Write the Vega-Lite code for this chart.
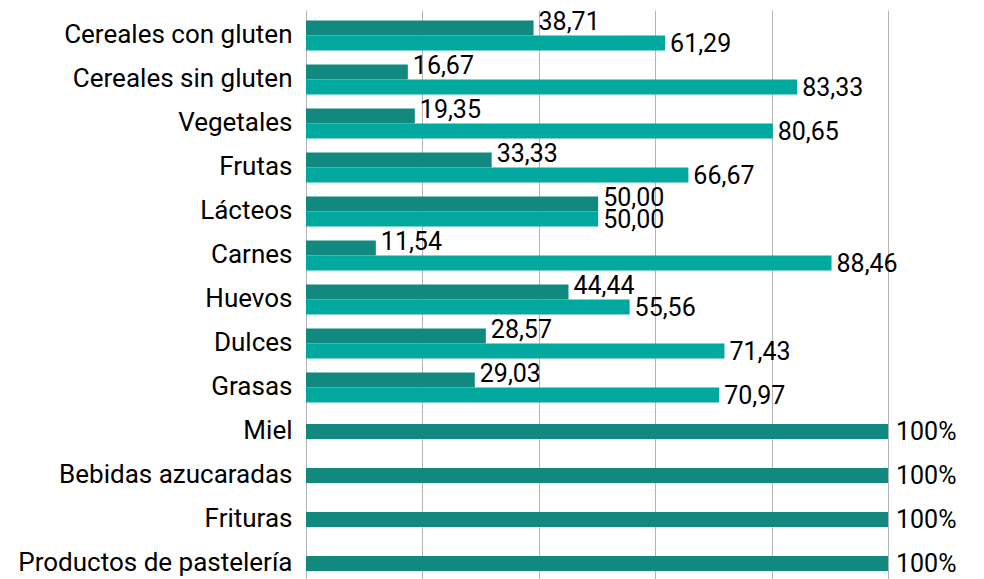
{
  "$schema": "https://vega.github.io/schema/vega-lite/v6.json",
  "autosize": {"type": "none"},
  "padding": {"left": 306, "top": 10, "right": 96, "bottom": 0},
  "width": 582,
  "height": 569,
  "background": "white",
  "config": {
    "view": {"stroke": null},
    "font": "Roboto",
    "text": {"font": "Roboto"}
  },
  "data": {
    "values": [
      {"cat": "Cereales con gluten", "serie": "a", "v": 39.1, "label": "38,71"},
      {"cat": "Cereales con gluten", "serie": "b", "v": 61.7, "label": "61,29"},
      {"cat": "Cereales sin gluten", "serie": "a", "v": 17.5, "label": "16,67"},
      {"cat": "Cereales sin gluten", "serie": "b", "v": 84.4, "label": "83,33"},
      {"cat": "Vegetales", "serie": "a", "v": 18.7, "label": "19,35"},
      {"cat": "Vegetales", "serie": "b", "v": 80.2, "label": "80,65"},
      {"cat": "Frutas", "serie": "a", "v": 31.9, "label": "33,33"},
      {"cat": "Frutas", "serie": "b", "v": 65.7, "label": "66,67"},
      {"cat": "Lácteos", "serie": "a", "v": 50.2, "label": "50,00"},
      {"cat": "Lácteos", "serie": "b", "v": 50.2, "label": "50,00"},
      {"cat": "Carnes", "serie": "a", "v": 12.0, "label": "11,54"},
      {"cat": "Carnes", "serie": "b", "v": 90.3, "label": "88,46"},
      {"cat": "Huevos", "serie": "a", "v": 45.1, "label": "44,44"},
      {"cat": "Huevos", "serie": "b", "v": 55.6, "label": "55,56"},
      {"cat": "Dulces", "serie": "a", "v": 30.9, "label": "28,57"},
      {"cat": "Dulces", "serie": "b", "v": 71.9, "label": "71,43"},
      {"cat": "Grasas", "serie": "a", "v": 29.0, "label": "29,03"},
      {"cat": "Grasas", "serie": "b", "v": 71.0, "label": "70,97"},
      {"cat": "Miel", "serie": "s", "v": 100, "label": "100%"},
      {"cat": "Bebidas azucaradas", "serie": "s", "v": 100, "label": "100%"},
      {"cat": "Frituras", "serie": "s", "v": 100, "label": "100%"},
      {"cat": "Productos de pastelería", "serie": "s", "v": 100, "label": "100%"}
    ]
  },
  "encoding": {
    "y": {
      "field": "cat",
      "type": "nominal",
      "sort": ["Cereales con gluten", "Cereales sin gluten", "Vegetales", "Frutas", "Lácteos", "Carnes", "Huevos", "Dulces", "Grasas", "Miel", "Bebidas azucaradas", "Frituras", "Productos de pastelería"],
      "scale": {"paddingInner": 0.32, "paddingOuter": 0.125, "align": 0.95},
      "axis": {
        "title": null,
        "ticks": false,
        "domain": false,
        "labelPadding": 14,
        "labelFontSize": 26,
        "labelFont": "Roboto",
        "labelColor": "#000000",
        "labelLimit": 400
      }
    },
    "x": {
      "field": "v",
      "type": "quantitative",
      "scale": {"domain": [0, 100], "nice": false},
      "axis": {
        "title": null,
        "labels": false,
        "ticks": false,
        "domain": false,
        "grid": true,
        "values": [0, 20, 40, 60, 80, 100],
        "gridColor": "#b4b4b4",
        "gridWidth": 1
      }
    }
  },
  "layer": [
    {
      "transform": [{"filter": "datum.serie != 's'"}],
      "mark": {"type": "bar"},
      "encoding": {
        "yOffset": {"field": "serie", "type": "nominal", "scale": {"domain": ["a", "b"], "paddingInner": 0, "paddingOuter": 0}},
        "color": {"field": "serie", "type": "nominal", "scale": {"domain": ["a", "b"], "range": ["#12897e", "#00a89d"]}, "legend": null}
      }
    },
    {
      "transform": [{"filter": "datum.serie == 's'"}],
      "mark": {"type": "bar", "color": "#12897e", "height": {"band": 0.5}}
    },
    {
      "transform": [{"filter": "datum.serie == 'a'"}],
      "mark": {"type": "text", "align": "left", "baseline": "middle", "dx": 5, "dy": -6, "fontSize": 25, "font": "Roboto", "color": "#000000"},
      "encoding": {
        "yOffset": {"field": "serie", "type": "nominal", "scale": {"domain": ["a", "b"]}},
        "text": {"field": "label"}
      }
    },
    {
      "transform": [{"filter": "datum.serie == 'b'"}],
      "mark": {"type": "text", "align": "left", "baseline": "middle", "dx": 5, "dy": 1, "fontSize": 25, "font": "Roboto", "color": "#000000"},
      "encoding": {
        "yOffset": {"field": "serie", "type": "nominal", "scale": {"domain": ["a", "b"]}},
        "text": {"field": "label"}
      }
    },
    {
      "transform": [{"filter": "datum.serie == 's'"}],
      "mark": {"type": "text", "align": "left", "baseline": "middle", "dx": 8, "dy": 1, "fontSize": 25, "font": "Roboto", "color": "#000000"},
      "encoding": {
        "text": {"field": "label"}
      }
    }
  ]
}
